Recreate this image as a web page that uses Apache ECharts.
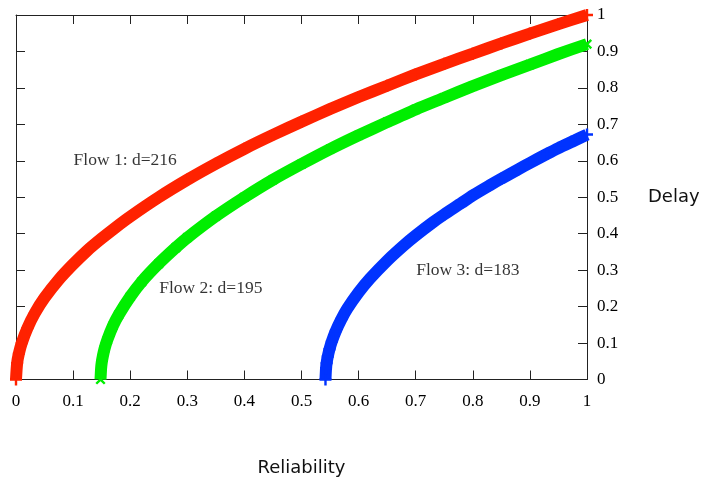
<!DOCTYPE html>
<html>
<head>
<meta charset="utf-8">
<script src="https://cdn.jsdelivr.net/npm/echarts@6/dist/echarts.min.js"></script>
<style>
html,body{margin:0;padding:0;background:#fff;}
#chart{width:710px;height:484px;}
</style>
</head>
<body>
<div id="chart"></div>
<script>
// Values
const flow1Reliability = [0.000, 0.002, 0.005, 0.010, 0.020, 0.033, 0.050, 0.075, 0.100, 0.125, 0.150, 0.175, 0.200, 0.250, 0.300, 0.350, 0.400, 0.450, 0.500, 0.550, 0.600, 0.650, 0.700, 0.750, 0.800, 0.850, 0.900, 0.950, 1.000];
const flow1Delay       = [0.000, 0.045, 0.071, 0.100, 0.141, 0.182, 0.224, 0.274, 0.316, 0.354, 0.387, 0.418, 0.447, 0.500, 0.548, 0.592, 0.633, 0.671, 0.707, 0.742, 0.775, 0.806, 0.837, 0.866, 0.894, 0.922, 0.949, 0.975, 1.000];

const flow2Reliability = [0.148, 0.149, 0.150, 0.152, 0.155, 0.160, 0.170, 0.180, 0.200, 0.220, 0.250, 0.280, 0.300, 0.350, 0.400, 0.450, 0.500, 0.550, 0.600, 0.650, 0.700, 0.750, 0.800, 0.850, 0.900, 0.950, 1.000];
const flow2Delay       = [0.000, 0.030, 0.045, 0.063, 0.084, 0.109, 0.148, 0.178, 0.227, 0.268, 0.318, 0.362, 0.389, 0.448, 0.500, 0.548, 0.591, 0.632, 0.670, 0.706, 0.741, 0.773, 0.805, 0.835, 0.864, 0.893, 0.920];

const flow3Reliability = [0.542, 0.543, 0.544, 0.546, 0.549, 0.553, 0.560, 0.570, 0.580, 0.600, 0.620, 0.650, 0.680, 0.700, 0.730, 0.750, 0.780, 0.800, 0.830, 0.850, 0.880, 0.900, 0.930, 0.950, 0.980, 1.000];
const flow3Delay       = [0.000, 0.031, 0.045, 0.063, 0.083, 0.104, 0.133, 0.166, 0.194, 0.239, 0.277, 0.326, 0.369, 0.395, 0.431, 0.453, 0.484, 0.505, 0.533, 0.551, 0.577, 0.594, 0.619, 0.635, 0.657, 0.672];

const annotationTexts = ['Flow 1: d=216', 'Flow 2: d=195', 'Flow 3: d=183'];
const annotationX     = [0.10, 0.25, 0.70];
const annotationY     = [0.60, 0.25, 0.30];

const xTicks = [0, 0.1, 0.2, 0.3, 0.4, 0.5, 0.6, 0.7, 0.8, 0.9, 1];
const yTicks = [0, 0.1, 0.2, 0.3, 0.4, 0.5, 0.6, 0.7, 0.8, 0.9, 1];

const zip = (a, b) => a.map((v, i) => [v, b[i]]);
const tickFmt = v => String(+v.toFixed(1));

const frame = '#222';
const serif = 'Liberation Serif';
const sans = 'DejaVu Sans';

const plusPath = 'path://M4,0h2v4h4v2h-4v4h-2v-4h-4v-2h4z';

function flowSeries(xs, ys, color, rot) {
  return {
    type: 'line',
    data: zip(xs, ys),
    smooth: 0.25,
    showSymbol: true,
    symbol: plusPath,
    symbolSize: 12,
    symbolRotate: rot,
    itemStyle: { color: color },
    lineStyle: { color: color, width: 12 },
    z: 3
  };
}

const axisCommonX = {
  type: 'value', min: xTicks[0], max: xTicks[xTicks.length - 1], interval: 0.1,
  axisLine: { show: true, onZero: false, lineStyle: { color: frame, width: 1 } },
  axisTick: { show: true, inside: true, length: 9, lineStyle: { color: frame, width: 1 } },
  splitLine: { show: false }
};
const axisCommonY = {
  type: 'value', min: yTicks[0], max: yTicks[yTicks.length - 1], interval: 0.1,
  axisLine: { show: true, onZero: false, lineStyle: { color: frame, width: 1 } },
  axisTick: { show: true, inside: true, length: 9, lineStyle: { color: frame, width: 1 } },
  splitLine: { show: false }
};

const chart = echarts.init(document.getElementById('chart'), null, { renderer: 'canvas' });
chart.setOption({
  animation: false,
  backgroundColor: '#fff',
  grid: { left: 16, right: 123, top: 15, bottom: 104.5, containLabel: false },
  xAxis: [
    Object.assign({}, axisCommonX, {
      position: 'bottom',
      axisLabel: { show: true, margin: 14, fontFamily: serif, fontSize: 17, color: '#000', formatter: tickFmt },
      name: 'Reliability', nameLocation: 'middle', nameGap: 80,
      nameTextStyle: { fontFamily: sans, fontSize: 18, color: '#111' }
    }),
    Object.assign({}, axisCommonX, { position: 'top', axisLabel: { show: false } })
  ],
  yAxis: [
    Object.assign({}, axisCommonY, {
      position: 'right',
      axisLabel: { show: true, margin: 10, fontFamily: serif, fontSize: 17, color: '#000', formatter: tickFmt },
      name: 'Delay', nameLocation: 'middle', nameGap: 61, nameRotate: 0,
      nameTextStyle: { fontFamily: sans, fontSize: 18, color: '#111', align: 'left' }
    }),
    Object.assign({}, axisCommonY, { position: 'left', axisLabel: { show: false } })
  ],
  series: [
    flowSeries(flow1Reliability, flow1Delay, '#ff2200', 0),
    flowSeries(flow2Reliability, flow2Delay, '#00ee00', 45),
    flowSeries(flow3Reliability, flow3Delay, '#0033ff', 0),
    {
      type: 'scatter',
      symbolSize: 1,
      itemStyle: { color: 'rgba(0,0,0,0)' },
      data: annotationTexts.map((t, i) => ({ name: t, value: [annotationX[i], annotationY[i]] })),
      label: {
        show: true, position: 'right', distance: 0,
        formatter: p => p.name,
        fontFamily: serif, fontSize: 17.5, color: '#000'
      },
      z: 5
    }
  ]
});
</script>
</body>
</html>
